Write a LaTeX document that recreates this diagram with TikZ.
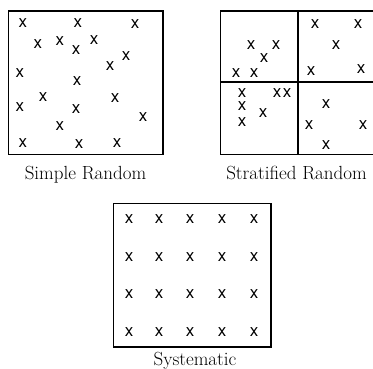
\documentclass[tikz,border=0pt]{standalone}
\usepackage{fontspec}
\newfontfamily\xfont{TeX Gyre Heros}

\tikzset{
	xmark/.style={inner sep=0pt, font=\xfont\fontsize{17}{17}\selectfont},
	caption/.style={anchor=base, inner sep=0pt, font=\fontsize{19}{19}\selectfont},
	frame/.style={line width=1.6pt}
}

\begin{document}
\begin{tikzpicture}[x=1pt, y=-1pt]
				\useasboundingbox (0,0) rectangle (373,368);
				
				% simple random
				\draw[frame] (8.3,10.7) rectangle (162.7,154.3);
				\foreach \px/\py [count=\i] in {23/23, 78/23, 135/24, 38/44, 60/41, 76/50, 94/40, 110/66, 126/56, 20/73, 77/81, 43/97, 115/98, 20/107, 76/109, 143/117, 60/126, 23/143, 79/144, 117/143}
					\node[xmark] (sr\i) at (\px,\py) {x};
				\node[caption] (srlabel) at (85.5,179) {Simple Random};
				
				% stratified random
				\draw[frame] (376,10.7) -- (220.3,10.7) -- (220.3,154.3) -- (376,154.3);
				\draw[frame] (298,10.7) -- (298,154.3);
				\draw[frame] (220.3,81.7) -- (376,81.7);
				\foreach \px/\py [count=\i] in {251/45, 276/45, 264/58, 236/73, 254/73, 315/24, 358/24, 336/45, 311/71, 361/69, 242/93, 242/106, 242/122, 263/113, 277/93, 287/93, 326/104, 309/125, 363/125, 326/145}
					\node[xmark] (st\i) at (\px,\py) {x};
				\node[caption] (stlabel) at (296.5,179) {Stratified Random};
				
				% systematic
				\draw[frame] (113.3,203.3) rectangle (270.7,346.7);
				\foreach \px [count=\i] in {129,159,190,222,254}
					\foreach \py [count=\j] in {219,257,294,332}
						\node[xmark] (sy\i\j) at (\px,\py) {x};
				\node[caption] (sylabel) at (195,365) {Systematic};
			\end{tikzpicture}
\end{document}
